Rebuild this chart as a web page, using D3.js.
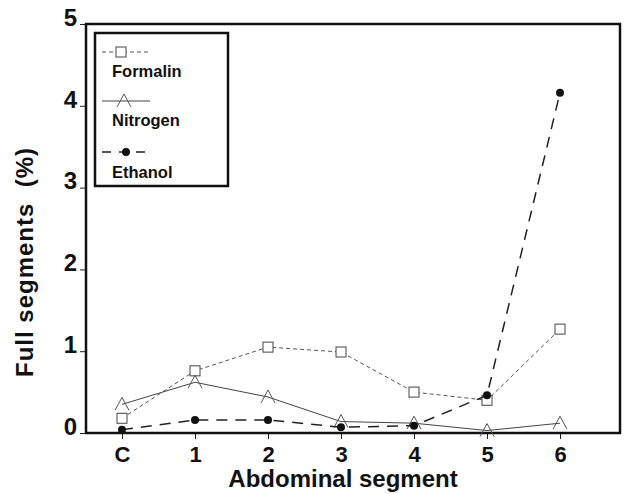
<!DOCTYPE html>
<html><head><meta charset="utf-8">
<script src="https://cdn.jsdelivr.net/npm/d3@7"></script>
<style>body{margin:0;background:#fff}svg{display:block}text{font-family:"Liberation Sans",Arial,sans-serif}</style>
</head><body>
<svg id="c" width="624" height="494"></svg>
<script>
const categories = ["C","1","2","3","4","5","6"];
const yTicks = [0,1,2,3,4,5];
const formalin = [0.18,0.76,1.05,0.99,0.50,0.40,1.27];
const nitrogen = [0.35,0.62,0.44,0.14,0.12,0.03,0.12];
const ethanol  = [0.04,0.16,0.16,0.07,0.09,0.46,4.16];
const seriesNames = ["Formalin","Nitrogen","Ethanol"];

const svg = d3.select("#c");
const L=86, R=620, T=24, B=433;
const x = d3.scalePoint().domain(categories).range([122,560]);
const y = d3.scaleLinear().domain([0,5]).range([B,T]);

// y axis
const ya = svg.append("g").attr("transform",`translate(${L},0)`)
  .call(d3.axisLeft(y).tickValues(yTicks).tickSize(6).tickPadding(3).tickFormat(d3.format("d")));
ya.select(".domain").remove();
ya.selectAll("line").attr("stroke","#222").attr("stroke-width",1);
ya.selectAll("text").attr("font-size",24).attr("font-weight","bold").attr("fill","#111").attr("dy","0.05em");

// x axis
const xa = svg.append("g").attr("transform",`translate(0,${B})`)
  .call(d3.axisBottom(x).tickSize(6).tickPadding(7));
xa.select(".domain").remove();
xa.selectAll("line").attr("stroke","#222");
xa.selectAll("text").attr("font-size",22).attr("font-weight","bold").attr("fill","#111");

// frame
svg.append("rect").attr("x",L).attr("y",T).attr("width",R-L).attr("height",B-T)
  .attr("fill","none").attr("stroke","#111").attr("stroke-width",2.5);

// titles
svg.append("text").attr("x",343).attr("y",487).attr("text-anchor","middle")
  .attr("font-size",24).attr("font-weight","bold").attr("fill","#111").text("Abdominal segment");
svg.append("text").attr("transform","translate(33,262) rotate(-90)").attr("text-anchor","middle")
  .attr("font-size",24).attr("font-weight","bold").attr("letter-spacing",1).attr("fill","#111")
  .attr("xml:space","preserve").text("Full segments  (%)");

const line = d3.line().x((d,i)=>x(categories[i])).y(d=>y(d));
const styles = {
  Formalin:{dash:"4,3",w:1,c:"#555"},
  Nitrogen:{dash:null,w:1,c:"#444"},
  Ethanol:{dash:"11,8",w:1.5,c:"#222"}
};
const data = {Formalin:formalin,Nitrogen:nitrogen,Ethanol:ethanol};

function marker(g,name,cx,cy){
  if(name==="Formalin"){
    g.append("rect").attr("x",cx-5).attr("y",cy-5).attr("width",10).attr("height",10)
      .attr("fill","#fff").attr("stroke","#444").attr("stroke-width",1);
  } else if(name==="Nitrogen"){
    g.append("path").attr("d",`M${cx-7},${cy+6}L${cx},${cy-7}L${cx+7},${cy+6}`)
      .attr("fill","none").attr("stroke","#555").attr("stroke-width",1);
  } else {
    g.append("circle").attr("cx",cx).attr("cy",cy).attr("r",4).attr("fill","#111");
  }
}

seriesNames.forEach(name=>{
  const s=styles[name];
  svg.append("path").datum(data[name]).attr("d",line).attr("fill","none")
    .attr("stroke",s.c).attr("stroke-width",s.w).attr("stroke-dasharray",s.dash);
  const g=svg.append("g");
  data[name].forEach((v,i)=>marker(g,name,x(categories[i]),y(v)));
});

// legend
svg.append("rect").attr("x",95).attr("y",33).attr("width",133).attr("height",153)
  .attr("fill","#fff").attr("stroke","#111").attr("stroke-width",2.5);
const legY=[52,101,152], legT=[77,126,178];
seriesNames.forEach((name,i)=>{
  const s=styles[name];
  svg.append("line").attr("x1",102).attr("x2",150).attr("y1",legY[i]).attr("y2",legY[i])
    .attr("stroke",s.c).attr("stroke-width",s.w).attr("stroke-dasharray",name==="Ethanol"?"9,8":s.dash);
  const g=svg.append("g");
  marker(g,name,i===0?121:(i===1?124:126),legY[i]);
  svg.append("text").attr("x",112).attr("y",legT[i]).attr("font-size",16.5).attr("font-weight","bold")
    .attr("fill","#111").text(name);
});
</script>
</body></html>
